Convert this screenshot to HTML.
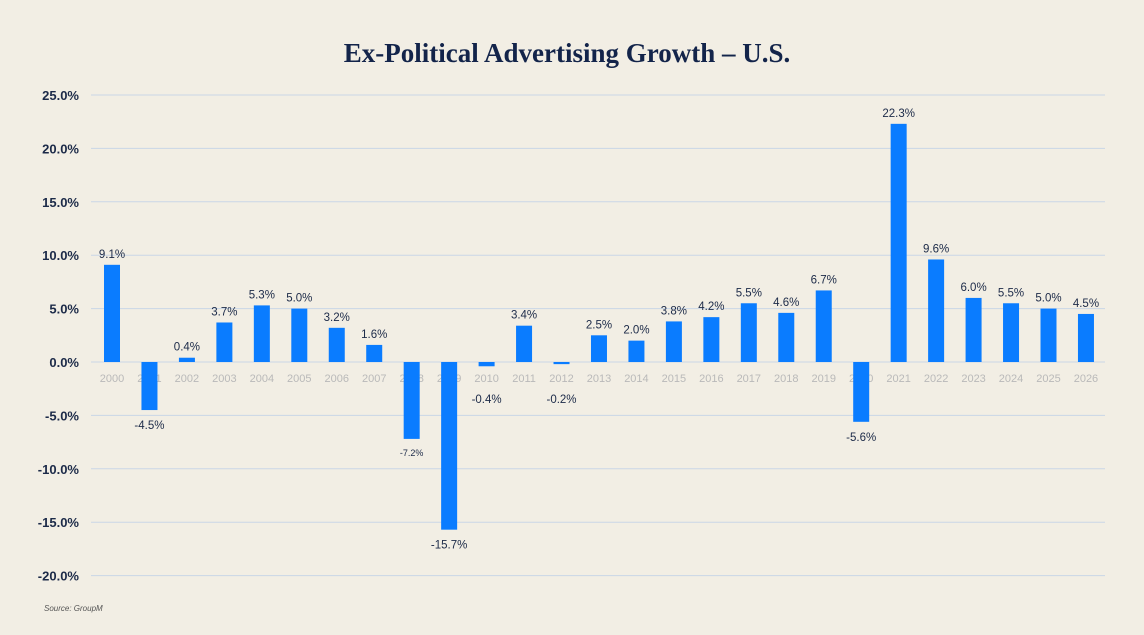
<!DOCTYPE html>
<html><head><meta charset="utf-8"><style>
body{margin:0;background:#f2eee4;}
svg{display:block;font-family:"Liberation Sans",sans-serif;}
</style></head><body>
<svg width="1144" height="635" viewBox="0 0 1144 635">
<rect width="1144" height="635" fill="#f2eee4"/>
<text x="567" y="62" text-anchor="middle" font-family="Liberation Serif,serif" font-weight="bold" font-size="27" fill="#13244a">Ex-Political Advertising Growth – U.S.</text>
<g id="grid"></g><g id="years"></g><g id="bars"></g><g id="labels"></g>
<text x="44" y="611" font-size="8" font-style="italic" fill="#555">Source: GroupM</text>
</svg>
<script>
const years=["2000","2001","2002","2003","2004","2005","2006","2007","2008","2009","2010","2011","2012","2013","2014","2015","2016","2017","2018","2019","2020","2021","2022","2023","2024","2025","2026"];
const values=[9.1,-4.5,0.4,3.7,5.3,5.0,3.2,1.6,-7.2,-15.7,-0.4,3.4,-0.2,2.5,2.0,3.8,4.2,5.5,4.6,6.7,-5.6,22.3,9.6,6.0,5.5,5.0,4.5];
const ticks=[25,20,15,10,5,0,-5,-10,-15,-20];
const NS="http://www.w3.org/2000/svg";
const y=v=>362-v*10.68;
const x=i=>112+i*37.46;
function mk(t,a,p){const e=document.createElementNS(NS,t);for(const k in a)e.setAttribute(k,a[k]);p.appendChild(e);return e;}
const g=document.getElementById('grid'),yr=document.getElementById('years'),b=document.getElementById('bars'),lb=document.getElementById('labels');
ticks.forEach(t=>{
 const l=mk('line',{x1:91,x2:1105,y1:y(t),y2:y(t),stroke:'#c9d6e6','stroke-width':1},g);
 
 
 const tx=mk('text',{x:79,y:y(t)+5,'text-anchor':'end','font-size':13,'font-weight':'bold',fill:'#1c2a48'},g);
 tx.textContent=t.toFixed(1)+'%';
 
 
});
years.forEach((yy,i)=>{
 const t=mk('text',{x:x(i),y:382,'text-anchor':'middle','font-size':11,fill:'#b9b9b9'},yr);
 t.textContent=yy;
 
 
 const v=values[i];
 const r=mk('rect',{x:x(i)-8,y:Math.min(y(v),y(0)),width:16,height:Math.abs(y(v)-y(0)),fill:'#0a7cff'},b);
 
 
 const small=yy==="2008";
 const ly=v>=0?y(v)-7:Math.max(y(v)+(small?17:19),403);
 const l=mk('text',{x:x(i),y:ly,'text-anchor':'middle','font-size':small?9:11.5,fill:'#1c2a48'},lb);
 l.textContent=v.toFixed(1)+'%';
 
 
});
</script>
</body></html>
